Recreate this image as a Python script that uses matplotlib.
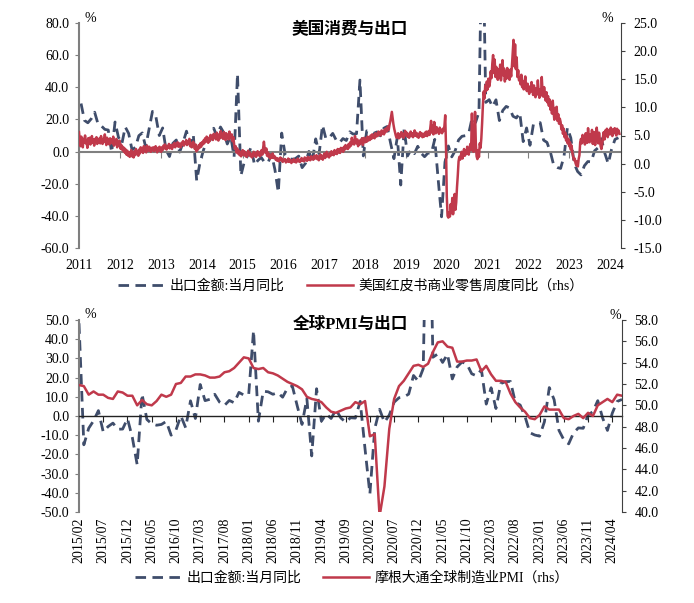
import numpy as np
import pandas as pd
import matplotlib
matplotlib.use('Agg')
import matplotlib.pyplot as plt
from matplotlib.ticker import FormatStrFormatter

plt.rcParams['font.family'] = ['Liberation Serif', 'Noto Sans CJK SC']
plt.rcParams['font.size'] = 10
plt.rcParams['axes.unicode_minus'] = False

# ---------------------------------------------------------------------------
# Datos
# Exportaciones China, % a/a mensual, desde 2011/04 hasta 2024/06
export_yoy = [
    29.9, 19.4, 17.9, 20.4, 24.5, 17.1, 15.9, 13.8, 13.4,                   # 2011
    -0.5, 18.4, 8.9, 4.9, 15.3, 11.3, 1.0, 2.7, 9.9, 11.6, 2.9, 14.1,       # 2012
    25.0, 21.8, 10.0, 14.7, 1.0, -3.1, 5.1, 7.2, -0.3, 5.6, 12.7, 4.3,      # 2013
    10.6, -18.1, -6.6, 0.9, 7.0, 7.2, 14.5, 9.4, 15.3, 11.6, 4.7, 9.7,      # 2014
    -3.3, 48.3, -15.0, -6.4, -2.5, 2.8, -8.3, -5.5, -3.7, -6.9, -6.8, -1.4, # 2015
    -11.2, -25.4, 11.5, -1.8, -4.1, -4.8, -4.4, -2.8, -10.0, -7.3, 0.1, -6.1,  # 2016
    7.9, -1.3, 16.4, 8.0, 8.7, 11.3, 7.2, 5.5, 8.1, 6.9, 12.3, 10.9,        # 2017
    11.1, 44.5, -2.7, 12.9, 12.6, 11.3, 12.2, 9.8, 14.5, 15.6, 5.4, -4.4,   # 2018
    9.1, -20.8, 14.2, -2.7, 1.1, -1.3, 3.3, -1.0, -3.2, -0.9, -1.1, 7.6,    # 2019
    -17.2, -40.6, -6.6, 3.5, -3.3, 0.5, 7.2, 9.5, 9.9, 11.4, 21.1, 18.1,    # 2020
    24.7, 154.6, 30.6, 32.3, 27.9, 32.2, 19.3, 25.6, 28.1, 27.1, 22.0, 20.9,  # 2021
    24.1, 6.2, 14.7, 3.9, 16.9, 17.9, 18.0, 7.1, 5.7, -0.3, -8.7, -9.9,     # 2022
    -10.5, -3.0, 14.8, 8.5, -7.5, -12.4, -14.5, -8.8, -6.2, -6.4, 0.5, 2.3, # 2023
    8.0, -1.0, -7.5, 1.5, 7.6, 8.6,                                         # 2024
]

# Redbook, % a/a semanal (aprox. una lectura por semana)
rb_2011 = [5.6, 4.2, 3.1, 4.8, 3.5, 2.9, 4.4, 3.8, 5.0, 3.6, 4.1, 2.8, 4.5, 3.9, 4.6,
           3.4, 4.0, 4.9, 3.7, 4.3, 3.2, 4.4, 3.9, 4.7, 3.5, 4.2, 3.8, 4.5, 3.6, 4.9,
           4.1, 3.5, 4.4, 3.9, 5.2, 4.0, 3.3, 4.6, 3.8, 4.2, 3.4, 4.5, 3.7]
rb_2012 = [4.3, 3.6, 4.8, 3.2, 4.0, 3.5, 4.4, 2.9, 3.8, 3.3, 4.1, 2.7, 3.4, 2.5, 3.0,
           2.2, 2.8, 1.9, 2.5, 1.6, 2.3, 1.4, 2.0, 1.2, 1.8, 2.4, 1.3, 1.9, 1.1, 2.2,
           1.5, 2.6, 1.7, 2.1, 1.4, 2.5, 1.8, 2.9, 2.2, 2.7, 1.9, 3.1, 2.4, 2.8, 2.0,
           3.2, 2.6, 2.3, 3.0, 2.5, 2.1, 2.8]
rb_2013 = [2.4, 2.9, 2.2, 2.7, 3.1, 2.5, 2.0, 2.8, 2.3, 3.0, 2.6, 2.1, 2.9, 2.4, 3.2,
           2.7, 3.4, 2.8, 2.5, 3.1, 2.9, 3.5, 2.7, 3.3, 3.0, 2.6, 3.4, 3.1, 3.7, 2.9,
           3.5, 3.2, 3.8, 3.0, 3.6, 3.3, 2.9, 3.7, 3.4, 4.0, 3.2, 3.8, 3.5, 4.2, 3.3,
           3.9, 3.6, 4.4, 3.1, 3.7, 2.9, 3.6]
rb_2014 = [3.9, 3.2, 2.6, 3.4, 2.2, 2.9, 2.5, 3.3, 2.8, 3.6, 3.0, 3.8, 3.4, 4.1, 3.6,
           4.5, 3.9, 4.8, 4.2, 3.7, 4.6, 4.0, 5.1, 4.4, 4.9, 4.2, 5.3, 4.6, 5.0, 4.3,
           5.5, 4.8, 4.1, 5.2, 4.5, 5.8, 4.7, 5.1, 4.4, 5.6, 4.9, 4.2, 5.4, 4.6, 5.0,
           4.3, 5.7, 4.8, 4.5, 5.2, 4.0, 4.7]
rb_2015 = [3.5, 2.6, 3.1, 2.0, 2.7, 1.8, 2.3, 1.5, 2.1, 1.3, 1.9, 2.4, 1.6, 2.2, 1.4,
           1.9, 1.2, 1.8, 2.3, 1.5, 2.0, 1.3, 1.7, 1.1, 1.6, 2.1, 1.4, 1.9, 1.2, 1.7,
           2.2, 1.5, 2.0, 1.3, 1.8, 2.4, 1.6, 2.8, 3.9, 2.6, 1.9, 2.7, 1.4, 2.0, 1.2,
           1.7, 0.9, 1.5, 1.1, 1.8, 1.0, 1.4]
rb_2016 = [1.2, 0.7, 1.0, 0.5, 0.9, 0.4, 0.8, 1.1, 0.6, 0.9, 0.3, 0.7, 0.5, 0.8, 0.2,
           0.6, 0.4, 0.9, 0.3, 0.7, 0.5, 0.1, 0.6, 0.4, 0.8, 0.3, 0.6, 0.2, 0.5, 0.9,
           0.4, 0.7, 0.3, 0.6, 1.0, 0.5, 0.8, 0.4, 1.1, 0.6, 0.9, 0.5, 1.2, 0.7, 1.0,
           0.6, 1.3, 0.8, 1.1, 0.7, 1.4, 0.9]
rb_2017 = [1.0, 1.5, 0.8, 1.3, 0.6, 1.1, 1.6, 0.9, 1.4, 0.7, 1.2, 1.8, 1.0, 1.5, 2.1,
           1.3, 1.7, 1.1, 1.9, 1.4, 2.2, 1.6, 2.0, 1.5, 2.4, 1.8, 2.2, 1.7, 2.6, 2.0,
           2.5, 1.9, 2.8, 2.3, 2.7, 2.1, 3.0, 2.5, 3.3, 2.7, 3.1, 2.6, 3.5, 2.9, 3.8,
           3.2, 4.6, 3.6, 4.1, 3.4, 4.9, 3.9]
rb_2018 = [3.6, 4.3, 3.1, 3.9, 3.4, 4.2, 3.7, 4.5, 3.3, 4.0, 4.6, 3.8, 4.4, 3.9, 4.8,
           4.1, 4.7, 4.2, 5.0, 4.4, 5.2, 4.6, 5.1, 4.5, 5.4, 4.8, 5.3, 4.9, 5.7, 5.1,
           5.5, 5.0, 5.9, 5.3, 5.8, 5.2, 6.1, 5.6, 6.3, 5.8, 6.6, 6.0, 6.9, 7.5, 8.4,
           9.2, 8.1, 7.0, 6.2, 5.6, 5.0, 4.6]
rb_2019 = [4.8, 5.4, 4.5, 5.1, 4.7, 5.6, 4.9, 5.3, 4.6, 5.2, 5.8, 5.0, 5.5, 4.8, 5.3,
           4.6, 5.1, 5.7, 4.9, 5.4, 4.7, 5.2, 5.9, 5.0, 5.5, 4.8, 5.3, 4.6, 5.1, 5.6,
           4.9, 5.4, 4.7, 5.2, 4.8, 5.5, 5.0, 5.7, 4.9, 5.3, 5.8, 5.1, 6.3, 7.6, 5.5,
           6.8, 5.2, 7.4, 6.0, 5.4, 6.5, 5.8]
rb_2020 = [5.9, 5.3, 6.4, 5.6, 6.0, 5.4, 6.2, 5.8, 6.7, 8.6, 3.1, -5.8, -9.3, -9.6,
           -8.7, -9.4, -7.2, -8.8, -6.1, -9.0, -7.5, -5.4, -8.2, -6.9, -4.2, -2.1, 0.4,
           1.2, 0.7, 1.5, 2.1, 0.9, 1.8, 2.6, 1.4, 2.3, 1.7, 3.0, 2.2, 1.6, 2.8, 3.5,
           2.4, 8.9, 3.8, 2.1, 4.2, 9.2, 3.5, 1.3, 0.8, 2.4]
rb_2021 = [1.2, 3.6, 2.8, 4.5, 7.2, 10.4, 12.8, 11.6, 13.9, 12.9, 14.6, 13.2, 15.1,
           13.7, 14.5, 16.4, 15.2, 17.8, 19.3, 16.1, 18.5, 15.4, 17.2, 16.0, 14.9,
           16.8, 15.3, 17.6, 14.8, 16.2, 18.4, 15.7, 16.9, 14.6, 16.3, 15.1, 17.0,
           15.8, 16.4, 14.9, 16.7, 15.5, 17.4, 19.6, 22.0, 17.3, 21.2, 16.8, 18.9,
           15.4, 16.6, 14.8]
rb_2022 = [15.2, 14.1, 15.8, 13.6, 14.7, 13.2, 14.4, 15.5, 13.8, 12.9, 14.2, 13.1,
           12.4, 13.7, 12.8, 14.5, 13.3, 12.2, 13.9, 12.6, 11.8, 13.4, 12.3, 14.8,
           12.9, 11.7, 13.2, 12.1, 15.4, 12.8, 11.9, 13.6, 12.4, 11.2, 12.7, 10.9,
           12.0, 10.3, 11.4, 9.6, 10.8, 8.9, 11.2, 9.3, 7.8, 9.9, 8.4, 10.1, 7.6, 8.8,
           7.1, 8.0]
rb_2023 = [7.4, 6.1, 6.8, 5.3, 6.2, 4.7, 5.5, 4.1, 4.9, 3.6, 4.4, 3.1, 3.8, 2.5, 3.2,
           1.9, 1.2, 0.6, 0.9, 0.1, -0.3, 0.4, -0.5, 0.8, 1.5, 3.8, 4.4, 3.6, 5.1, 3.9,
           4.7, 3.4, 5.4, 4.2, 3.7, 6.3, 4.5, 3.8, 5.2, 4.1, 6.0, 3.5, 4.9, 5.6, 3.3,
           4.6, 6.4, 4.9, 3.6, 5.5, 4.3, 3.1]
rb_2024 = [2.6, 3.4, 4.8, 5.6, 4.3, 5.9, 5.1, 6.2, 4.7, 5.5, 6.0, 5.2, 6.4, 5.7, 4.9,
           6.1, 5.4, 6.3, 5.8, 5.0, 6.2, 5.6, 5.9, 5.3]

# PMI global manufacturero JPMorgan, 2015/02 - 2024/06
pmi = [
    51.9, 51.8, 51.0, 51.3, 51.0, 51.0, 50.7, 50.6, 51.3, 51.2, 50.9,
    50.9, 50.0, 50.5, 50.1, 50.0, 50.4, 51.0, 50.8, 51.0, 52.0, 52.1, 52.7,
    52.7, 52.9, 52.9, 52.8, 52.6, 52.6, 52.7, 53.1, 53.2, 53.5, 54.0, 54.5,
    54.4, 53.5, 53.4, 53.5, 53.1, 53.0, 52.8, 52.5, 52.2, 52.0, 51.8, 51.5,
    50.8, 50.6, 50.5, 50.3, 49.8, 49.4, 49.3, 49.5, 49.7, 49.8, 50.3, 50.1,
    50.4, 47.1, 47.3, 39.6, 42.4, 47.8, 50.6, 51.8, 52.3, 53.0, 53.7, 53.8,
    53.6, 53.9, 55.0, 55.9, 56.0, 55.5, 55.4, 54.1, 54.1, 54.2, 54.2, 54.3,
    53.2, 53.7, 52.9, 52.3, 52.3, 52.2, 51.1, 50.3, 49.8, 49.4, 48.8, 48.7,
    49.1, 49.9, 49.6, 49.6, 49.6, 48.8, 48.7, 49.0, 49.2, 48.8, 49.3, 49.0,
    50.0, 50.3, 50.6, 50.3, 51.0, 50.9,
]

years_top = list(range(2011, 2025))
month_labels = pd.period_range('2015-02', periods=len(pmi), freq='M').strftime('%Y/%m')

label_exp = '出口金额:当月同比'
label_rb = '美国红皮书商业零售周度同比（rhs）'
label_pmi = '摩根大通全球制造业PMI（rhs）'

red = '#C0394B'
navy = '#3F4D6B'
W, H = 694, 603


def frac(x0, y0, x1, y1):
    return [x0 / W, 1 - y1 / H, (x1 - x0) / W, (y1 - y0) / H]


fig = plt.figure(figsize=(W / 100, H / 100), dpi=100)

# ---------------------------------------------------------------------------
# Gráfico superior
ax1 = fig.add_axes(frac(79, 23, 621, 248))
ax1r = ax1.twinx()

exp_x = 2011 + (3 + np.arange(len(export_yoy))) / 12
l1, = ax1.plot(exp_x, export_yoy, color=navy, lw=2.0, dashes=(3.8, 2.3))

rb_x, rb_y = [], []
for yr, vals in zip(years_top, [rb_2011, rb_2012, rb_2013, rb_2014, rb_2015, rb_2016,
                                rb_2017, rb_2018, rb_2019, rb_2020, rb_2021, rb_2022,
                                rb_2023, rb_2024]):
    start, end = max(yr, 2011.2), min(yr + 1, 2024.46)
    rb_x.extend(start + (end - start) * np.arange(len(vals)) / len(vals))
    rb_y.extend(vals)
l2, = ax1r.plot(rb_x, rb_y, color=red, lw=1.8)

ax1.set_xlim(2011.2, 2024.48)
ax1.set_ylim(-60, 80)
ax1.set_yticks(np.arange(-60, 81, 20))
ax1r.set_ylim(-15, 25)
ax1r.set_yticks(np.arange(-15, 26, 5))

# ---------------------------------------------------------------------------
# Gráfico inferior
ax2 = fig.add_axes(frac(79, 320, 622, 512))
ax2r = ax2.twinx()
m = np.arange(len(pmi))
l3, = ax2.plot(m, export_yoy[46:], color=navy, lw=2.0, dashes=(3.8, 2.3))
l4, = ax2r.plot(m, pmi, color=red, lw=1.8)
ax2.set_xlim(0, len(pmi) - 1)
ax2.set_ylim(-50, 50)
ax2.set_yticks(np.arange(-50, 51, 10))
ax2r.set_ylim(40, 58)
ax2r.set_yticks(np.arange(40, 58.1, 2))

# ---------------------------------------------------------------------------
# Estilo común de ejes
top_ticks = np.array(years_top) + 0.21
bot_ticks = m[::5]
for ax, axr, ticks, labels, zc, rot, pad in [
        (ax1, ax1r, top_ticks, [str(y) for y in years_top], '#808080', 0, 8),
        (ax2, ax2r, bot_ticks, list(month_labels[::5]), '#222222', 90, 4)]:
    ax.spines[['top', 'right']].set_visible(False)
    ax.spines['left'].set_color('#7F7F7F')
    ax.spines['left'].set_linewidth(1.5)
    ax.spines['bottom'].set_position(('data', 0))
    ax.spines['bottom'].set_color(zc)
    ax.spines['bottom'].set_linewidth(1.5 if rot == 0 else 1.0)
    ax.set_xticks(ticks)
    ax.tick_params(axis='x', direction='out', length=4, color=zc, labelbottom=False)
    ax.tick_params(axis='y', direction='out', length=3, pad=4, color='#7F7F7F')
    ax.yaxis.set_major_formatter(FormatStrFormatter('%.1f'))
    axr.spines[['top', 'bottom', 'left']].set_visible(False)
    axr.spines['right'].set_color('#404040')
    axr.tick_params(axis='y', direction='out', length=3, pad=6, color='#404040')
    axr.yaxis.set_major_formatter(FormatStrFormatter('%.1f'))
    sec = ax.secondary_xaxis('bottom')
    sec.set_xticks(ticks, labels=labels, rotation=rot)
    sec.spines['bottom'].set_visible(False)
    sec.tick_params(length=0, pad=pad)

# Textos
fig.text(350 / W, 1 - 30 / H, '美国消费与出口', ha='center', va='center',
         fontsize=12, fontweight='bold')
fig.text(350 / W, 1 - 325 / H, '全球PMI与出口', ha='center', va='center',
         fontsize=12, fontweight='bold')
for x, y in [(90, 18), (607, 19), (90, 315), (615, 316)]:
    fig.text(x / W, 1 - y / H, '%', ha='center', va='center', fontsize=10)

leg_kw = dict(loc='center', ncol=2, frameon=False, handlelength=3.3,
              columnspacing=1.6, handletextpad=0.4, fontsize=10)
fig.legend([l1, l2], [label_exp, label_rb], bbox_to_anchor=(351 / W, 1 - 286 / H), **leg_kw)
fig.legend([l3, l4], [label_exp, label_pmi], bbox_to_anchor=(352 / W, 1 - 578 / H), **leg_kw)

fig.savefig('out.png', dpi=100)
